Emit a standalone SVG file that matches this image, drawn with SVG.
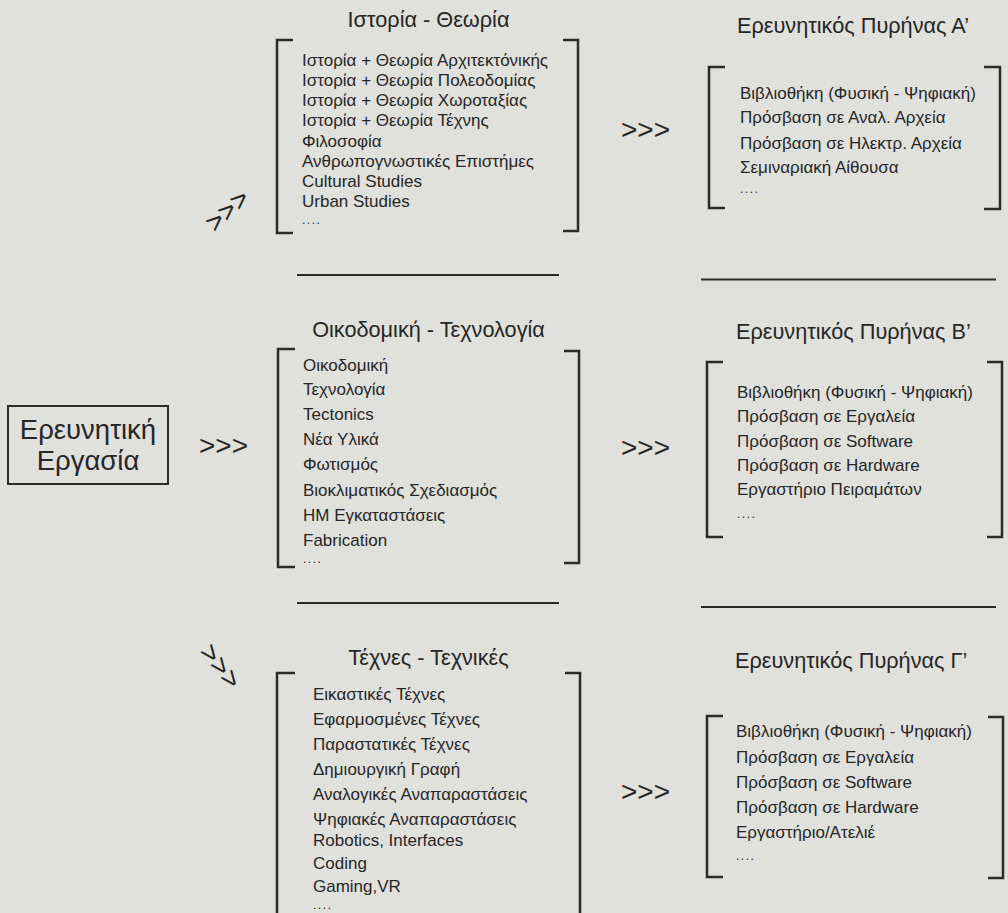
<svg xmlns="http://www.w3.org/2000/svg" width="1008" height="913" viewBox="0 0 1008 913">
<style>
text{font-family:"Liberation Sans",Arial,"Noto Sans",sans-serif;fill:#262626}
.item{font-size:17px}
.dots{font-size:12px;letter-spacing:1.5px}
.title{font-size:21.7px}
.arr{font-size:28px}
.main{font-size:27.5px}
.br{fill:none;stroke:#2b2b2b;stroke-width:2.5}
.sep{stroke:#2b2b2b;stroke-width:2}
</style>
<rect x="0" y="0" width="1008" height="913" fill="#e0e0dc"/>

<g id="node-main">
<rect x="8" y="406" width="160" height="78" fill="none" stroke="#2b2b2b" stroke-width="2"/>
<text class="main" x="88" y="439" text-anchor="middle">Ερευνητική</text>
<text class="main" x="88" y="470" text-anchor="middle">Εργασία</text>
</g>

<g id="connectors">
<text class="arr" x="227" y="220" text-anchor="middle" transform="rotate(-42 227 210)">&gt;&gt;&gt;</text>
<text class="arr" x="199" y="455">&gt;&gt;&gt;</text>
<text class="arr" x="221" y="676" text-anchor="middle" transform="rotate(52 221 666)">&gt;&gt;&gt;</text>
<text class="arr" x="621" y="139">&gt;&gt;&gt;</text>
<text class="arr" x="621" y="457">&gt;&gt;&gt;</text>
<text class="arr" x="621" y="801">&gt;&gt;&gt;</text>
<line class="sep" x1="297" y1="275" x2="559" y2="275"/>
<line class="sep" x1="297" y1="603" x2="559" y2="603"/>
<line class="sep" x1="701" y1="279.5" x2="996" y2="279.5"/>
<line class="sep" x1="701" y1="607" x2="996" y2="607"/>
</g>

<g id="node-history">
<text class="title" x="428.5" y="27" text-anchor="middle">Ιστορία - Θεωρία</text>
<polyline class="br" points="293,40 277,40 277,233 293,233"/>
<polyline class="br" points="563,40 578,40 578,231 563,231"/>
<text class="item" x="302" y="66">Ιστορία + Θεωρία Αρχιτεκτόνικής</text>
<text class="item" x="302" y="86">Ιστορία + Θεωρία Πολεοδομίας</text>
<text class="item" x="302" y="106">Ιστορία + Θεωρία Χωροταξίας</text>
<text class="item" x="302" y="126">Ιστορία + Θεωρία Τέχνης</text>
<text class="item" x="302" y="147">Φιλοσοφία</text>
<text class="item" x="302" y="167">Ανθρωπογνωστικές Επιστήμες</text>
<text class="item" x="302" y="187">Cultural Studies</text>
<text class="item" x="302" y="207">Urban Studies</text>
<text class="dots" x="302" y="224">....</text>
</g>

<g id="node-construction">
<text class="title" x="428.5" y="337" text-anchor="middle">Οικοδομική - Τεχνολογία</text>
<polyline class="br" points="295,349 278,349 278,567 295,567"/>
<polyline class="br" points="564,351 579,351 579,563 564,563"/>
<text class="item" x="303" y="371">Οικοδομική</text>
<text class="item" x="303" y="395">Τεχνολογία</text>
<text class="item" x="303" y="420">Tectonics</text>
<text class="item" x="303" y="445">Νέα Υλικά</text>
<text class="item" x="303" y="470">Φωτισμός</text>
<text class="item" x="303" y="496">Βιοκλιματικός Σχεδιασμός</text>
<text class="item" x="303" y="521">ΗΜ Εγκαταστάσεις</text>
<text class="item" x="303" y="546">Fabrication</text>
<text class="dots" x="303" y="563">....</text>
</g>

<g id="node-arts">
<text class="title" x="428.5" y="665" text-anchor="middle">Τέχνες - Τεχνικές</text>
<polyline class="br" points="295,673 277,673 277,920"/>
<polyline class="br" points="565,673 580,673 580,920"/>
<text class="item" x="313" y="700">Εικαστικές Τέχνες</text>
<text class="item" x="313" y="725">Εφαρμοσμένες Τέχνες</text>
<text class="item" x="313" y="750">Παραστατικές Τέχνες</text>
<text class="item" x="313" y="775">Δημιουργική Γραφή</text>
<text class="item" x="313" y="800">Αναλογικές Αναπαραστάσεις</text>
<text class="item" x="313" y="825">Ψηφιακές Αναπαραστάσεις</text>
<text class="item" x="313" y="846">Robotics, Interfaces</text>
<text class="item" x="313" y="869">Coding</text>
<text class="item" x="313" y="892">Gaming,VR</text>
<text class="dots" x="313" y="909">....</text>
</g>

<g id="node-core-a">
<text class="title" x="737" y="33">Ερευνητικός Πυρήνας Α’</text>
<polyline class="br" points="725,67 709,67 709,208 725,208"/>
<polyline class="br" points="984,67 1000,67 1000,209 984,209"/>
<text class="item" x="740" y="99">Βιβλιοθήκη (Φυσική - Ψηφιακή)</text>
<text class="item" x="740" y="123">Πρόσβαση σε Αναλ. Αρχεία</text>
<text class="item" x="740" y="149">Πρόσβαση σε Ηλεκτρ. Αρχεία</text>
<text class="item" x="740" y="173">Σεμιναριακή Αίθουσα</text>
<text class="dots" x="740" y="193">....</text>
</g>

<g id="node-core-b">
<text class="title" x="736" y="339">Ερευνητικός Πυρήνας Β’</text>
<polyline class="br" points="723,362 707,362 707,537 723,537"/>
<polyline class="br" points="987,362 1002,362 1002,537 987,537"/>
<text class="item" x="737" y="398">Βιβλιοθήκη (Φυσική - Ψηφιακή)</text>
<text class="item" x="737" y="422">Πρόσβαση σε Εργαλεία</text>
<text class="item" x="737" y="447">Πρόσβαση σε Software</text>
<text class="item" x="737" y="471">Πρόσβαση σε Hardware</text>
<text class="item" x="737" y="495">Εργαστήριο Πειραμάτων</text>
<text class="dots" x="737" y="518">....</text>
</g>

<g id="node-core-c">
<text class="title" x="735" y="668">Ερευνητικός Πυρήνας Γ’</text>
<polyline class="br" points="723,716 707,716 707,877 723,877"/>
<polyline class="br" points="988,717 1003,717 1003,878 988,878"/>
<text class="item" x="736" y="737">Βιβλιοθήκη (Φυσική - Ψηφιακή)</text>
<text class="item" x="736" y="763">Πρόσβαση σε Εργαλεία</text>
<text class="item" x="736" y="788">Πρόσβαση σε Software</text>
<text class="item" x="736" y="813">Πρόσβαση σε Hardware</text>
<text class="item" x="736" y="838">Εργαστήριο/Ατελιέ</text>
<text class="dots" x="736" y="860">....</text>
</g>
</svg>
